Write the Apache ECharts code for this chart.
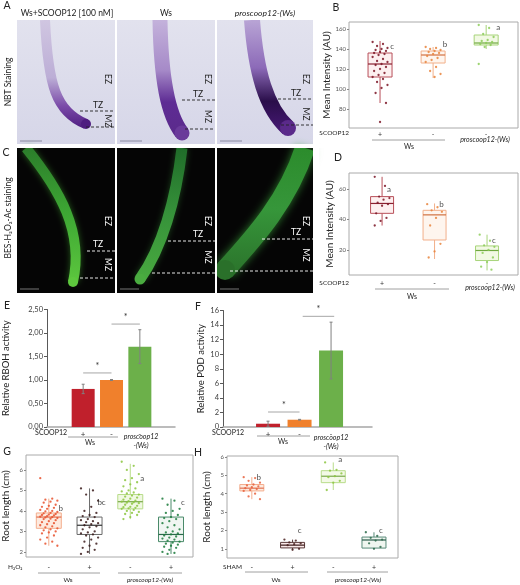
<!DOCTYPE html>
<html><head><meta charset="utf-8">
<script src="https://cdn.jsdelivr.net/npm/echarts@6/dist/echarts.min.js"></script>
<style>html,body{margin:0;padding:0;background:#fff}#c{width:520px;height:585px}</style>
</head><body><div id="c"></div>
<script>
// ---------------- DATA ----------------
// Panel B: NBT staining mean intensity
const signsB = ['+', '-', '-'];
const lettersB = ['c', 'b', 'a'];
const boxStatsB = [[86, 112, 125, 136, 148], [111, 126, 134, 138, 142], [140, 144, 146, 154, 164]];
const pointsB1 = [147,145,143,141,140,139,138,137,136,135,134,132,130,128,127,125,124,122,120,118,116,114,112,110,107,104,101,96,86,67];
const pointsB2 = [142,141,140,139,138,137,136,135,133,131,129,127,122,118,115,112];
const pointsB3 = [164,161,155,152,149,148,147,146,145,144,142,125];
const ticksB = [80, 100, 120, 140, 160];

// Panel D: BES-H2O2-Ac mean intensity
const signsD = ['+', '-', '-'];
const lettersD = ['a', 'b', 'c'];
const boxStatsD = [[36, 44, 50.5, 55, 68], [14, 26.5, 43, 46, 50.5], [6.5, 13, 19.6, 22.6, 30]];
const pointsD1 = [68,62,55,54,53,51,50,49,44,41,39,36];
const pointsD2 = [50,48,46,45,41,36,24,19,15];
const pointsD3 = [30,26,23,22,20,18,15,12,9,7];
const ticksD = [20, 40, 60];

// Panel E: relative RBOH activity
const signsE = ['+', '-', '-'];
const meansE = [0.81, 1.00, 1.71];
const errE = [0.10, 0.01, 0.36];

// Panel F: relative POD activity
const signsF = ['+', '-', '-'];
const meansF = [0.45, 1.00, 10.5];
const errF = [0.35, 0.05, 3.9];

// Panel G: root length with H2O2
const signsG = ['-', '+', '-', '+'];
const lettersG = ['b', 'bc', 'a', 'c'];
const boxStatsG = [[2.3, 3.15, 3.7, 3.9, 4.6], [1.9, 2.85, 3.3, 3.7, 5.1], [3.6, 4.1, 4.45, 4.8, 6.3], [1.9, 2.5, 2.85, 3.7, 4.6]];
const pointsG1 = [5.6,4.6,4.55,4.5,4.45,4.4,4.3,4.25,4.2,4.15,4.1,4.05,4.0,3.98,3.95,3.9,3.88,3.85,3.82,3.8,3.78,3.75,3.72,3.7,3.68,3.65,3.62,3.6,3.55,3.5,3.45,3.4,3.35,3.3,3.25,3.2,3.15,3.1,3.05,3.0,2.95,2.9,2.8,2.7,2.6,2.5,2.4,2.3];
const pointsG2 = [5.1,5.0,4.8,4.5,4.2,4.0,3.9,3.8,3.75,3.7,3.6,3.55,3.5,3.45,3.4,3.35,3.3,3.25,3.2,3.1,3.0,2.95,2.9,2.85,2.8,2.7,2.6,2.5,2.4,2.3,2.2,2.1,2.0,1.9];
const pointsG3 = [6.4,6.2,6.0,5.8,5.6,5.5,5.4,5.3,5.2,5.1,5.0,4.95,4.9,4.85,4.8,4.75,4.7,4.65,4.6,4.55,4.5,4.48,4.45,4.42,4.4,4.38,4.35,4.3,4.25,4.2,4.18,4.15,4.12,4.1,4.05,4.0,3.95,3.9,3.85,3.8,3.7,3.6];
const pointsG4 = [4.6,4.5,4.3,4.1,4.0,3.9,3.8,3.7,3.65,3.6,3.5,3.4,3.3,3.2,3.1,3.0,2.95,2.9,2.85,2.8,2.75,2.7,2.65,2.6,2.55,2.5,2.45,2.4,2.35,2.3,2.25,2.2,2.1,2.0,1.95,1.9];
const ticksG = [2, 3, 4, 5, 6];

// Panel H: root length with SHAM
const signsH = ['-', '+', '-', '+'];
const lettersH = ['b', 'c', 'a', 'c'];
const boxStatsH = [[3.7, 4.15, 4.3, 4.5, 4.9], [0.95, 1.05, 1.2, 1.35, 1.5], [4.2, 4.6, 4.95, 5.25, 5.7], [1.0, 1.04, 1.48, 1.64, 1.9]];
const pointsH1 = [4.9,4.85,4.7,4.6,4.5,4.45,4.4,4.35,4.3,4.25,4.2,4.15,4.0,3.85,3.7];
const pointsH2 = [1.5,1.45,1.35,1.3,1.25,1.2,1.0,0.95];
const pointsH3 = [5.7,5.3,5.25,5.1,4.95,4.9,4.7,4.6,4.2];
const pointsH4 = [1.9,1.7,1.6,1.5,1.45,1.3,1.1,1.0];
const ticksH = [1, 2, 3, 4, 5, 6];

// ---------------- STYLE / BUILD ----------------
const FONT = 'Lato, "Open Sans", sans-serif';
const chart = echarts.init(document.getElementById('c'), null, {renderer: 'canvas'});

const styB = [
  {stroke: '#b8505a', fill: '#fdf0f0', median: '#8a2030', dot: '#7a1424'},
  {stroke: '#f2b08a', fill: '#fef5ee', median: '#d07040', dot: '#e8843c'},
  {stroke: '#a8d47a', fill: '#f2f9e4', median: '#70a840', dot: '#8ccc58'}
];
const styG = [
  {stroke: '#f4ae8e', fill: '#fdeadf', median: '#e07050', dot: '#e8502c'},
  {stroke: '#6a6a6a', fill: '#ffffff', median: '#333333', dot: '#3a1a1a'},
  {stroke: '#b8dc8a', fill: '#f0f8e2', median: '#7aa84a', dot: '#8cc63f'},
  {stroke: '#4a8a6a', fill: '#f0f6f2', median: '#2a6a4a', dot: '#1a7a3a'}
];
const styH = [
  {stroke: '#f4ae8e', fill: '#fdeadf', median: '#e07050', dot: '#e8603c'},
  {stroke: '#5a3a3a', fill: '#fbe8e8', median: '#3a1a1a', dot: '#4a2020'},
  {stroke: '#b8dc8a', fill: '#f3f9e6', median: '#7aa84a', dot: '#8cc63f'},
  {stroke: '#5a8a7a', fill: '#f0f6f0', median: '#2a5a4a', dot: '#2a6a4a'}
];

function boxRender(sty, boxPx) {
  return function (params, api) {
    const i = api.value(0);
    const s = sty[params.dataIndex];
    const pMin = api.coord([i, api.value(1)]);
    const pQ1 = api.coord([i, api.value(2)]);
    const pMed = api.coord([i, api.value(3)]);
    const pQ3 = api.coord([i, api.value(4)]);
    const pMax = api.coord([i, api.value(5)]);
    const x = pMin[0], h = boxPx / 2;
    return {type: 'group', children: [
      {type: 'line', shape: {x1: x, y1: pMax[1], x2: x, y2: pQ3[1]}, style: {stroke: s.stroke, lineWidth: 1}},
      {type: 'line', shape: {x1: x, y1: pQ1[1], x2: x, y2: pMin[1]}, style: {stroke: s.stroke, lineWidth: 1}},
      {type: 'rect', shape: {x: x - h, y: pQ3[1], width: boxPx, height: pQ1[1] - pQ3[1]}, style: {fill: s.fill, stroke: s.stroke, lineWidth: 1}},
      {type: 'line', shape: {x1: x - h, y1: pMed[1], x2: x + h, y2: pMed[1]}, style: {stroke: s.median, lineWidth: 1.2}}
    ]};
  };
}
function boxSeries(gi, stats, sty, boxPx) {
  return {type: 'custom', xAxisIndex: gi, yAxisIndex: gi, z: 2,
    renderItem: boxRender(sty, boxPx),
    encode: {x: 0, y: [1, 2, 3, 4, 5]},
    data: stats.map((s, i) => [i].concat(s))};
}
function jitter(j, spread) { return (((j * 7) % 11) / 10 - 0.5) * spread; }
function dotSeries(gi, idx, pts, color, spread, size) {
  return {type: 'scatter', xAxisIndex: gi, yAxisIndex: gi, z: 5, symbolSize: size, silent: true,
    itemStyle: {color: color, opacity: 0.85},
    data: pts.map((v, j) => [idx + jitter(j, spread), v])};
}
function letterSeries(gi, letters, anchors, dx) {
  return {type: 'scatter', xAxisIndex: gi, yAxisIndex: gi, z: 6, symbolSize: 0, silent: true,
    label: {show: true, position: 'inside', offset: [dx, 0], formatter: p => p.value[2], fontSize: 8, color: '#222', fontFamily: FONT},
    data: letters.map((l, i) => [i, anchors[i], l])};
}
function boxXAxis(gi, min, max, signs, margin) {
  return {gridIndex: gi, type: 'value', min: min, max: max, splitLine: {show: false},
    axisLine: {show: false, onZero: false}, axisTick: {show: false},
    axisLabel: {customValues: signs.map((_, i) => i), formatter: v => signs[Math.round(v)], fontSize: 7, color: '#333', margin: margin, fontFamily: FONT}};
}
function boxYAxis(gi, min, max, ticks, name, nameGap, nameSize) {
  return {gridIndex: gi, type: 'value', min: min, max: max, name: name, nameLocation: 'middle', nameGap: nameGap,
    nameTextStyle: {fontSize: nameSize, color: '#222', fontFamily: FONT},
    splitLine: {show: false}, axisLine: {show: false, onZero: false},
    axisTick: {show: true, length: 2, customValues: ticks, lineStyle: {color: '#888'}},
    axisLabel: {customValues: ticks, fontSize: 6, color: '#555', margin: 3, fontFamily: FONT}};
}
function barXAxis(gi, min, max, signs) {
  return {gridIndex: gi, type: 'value', min: min, max: max, splitLine: {show: false},
    axisLine: {show: true, onZero: false, lineStyle: {color: '#a6a6a6', width: 1.5}}, axisTick: {show: false},
    axisLabel: {customValues: signs.map((_, i) => i), formatter: v => signs[Math.round(v)], fontSize: 8, color: '#333', margin: 3, fontFamily: FONT}};
}
function barYAxis(gi, max, interval, name, nameGap, fmt) {
  return {gridIndex: gi, type: 'value', min: 0, max: max, interval: interval, name: name, nameLocation: 'middle', nameGap: nameGap,
    nameTextStyle: {fontSize: 9.5, color: '#222', fontFamily: FONT},
    splitLine: {show: false}, axisLine: {show: true, onZero: false, lineStyle: {color: '#595959'}},
    axisTick: {show: true, length: 3, lineStyle: {color: '#595959'}},
    axisLabel: {fontSize: 7.5, color: '#404040', margin: 4, formatter: fmt, fontFamily: FONT}};
}
const barColors = ['#c0202c', '#f0802c', '#6cb04a'];
function barSeries(gi, means, width) {
  return {type: 'bar', xAxisIndex: gi, yAxisIndex: gi, barWidth: width, z: 2,
    data: means.map((m, i) => ({value: [i, m], itemStyle: {color: barColors[i]}}))};
}
function errSeries(gi, means, errs) {
  return {type: 'custom', xAxisIndex: gi, yAxisIndex: gi, z: 4,
    renderItem: function (params, api) {
      const x = api.value(0), m = api.value(1), e = api.value(2);
      const t = api.coord([x, m + e]), b = api.coord([x, m - e]);
      const st = {stroke: '#808080', lineWidth: 1};
      return {type: 'group', children: [
        {type: 'line', shape: {x1: t[0], y1: t[1], x2: b[0], y2: b[1]}, style: st},
        {type: 'line', shape: {x1: t[0] - 1.5, y1: t[1], x2: t[0] + 1.5, y2: t[1]}, style: st},
        {type: 'line', shape: {x1: b[0] - 1.5, y1: b[1], x2: b[0] + 1.5, y2: b[1]}, style: st}
      ]};
    },
    data: means.map((m, i) => [i, m, errs[i]])};
}
function sigSeries(gi, pairs) {
  return {type: 'custom', xAxisIndex: gi, yAxisIndex: gi, z: 4, clip: false,
    renderItem: function (params, api) {
      const a = api.coord([api.value(0), api.value(2)]), b = api.coord([api.value(1), api.value(2)]);
      return {type: 'group', children: [
        {type: 'line', shape: {x1: a[0], y1: a[1], x2: b[0], y2: b[1]}, style: {stroke: '#a6a6a6', lineWidth: 1}},
        {type: 'text', x: (a[0] + b[0]) / 2, y: a[1] - 7, style: {text: '*', fontSize: 9, fill: '#333', textAlign: 'center', textVerticalAlign: 'middle', fontFamily: FONT}}
      ]};
    },
    data: pairs};
}

const gridStyle = {show: true, borderColor: '#aaaaaa', borderWidth: 1, backgroundColor: 'transparent'};
const grids = [
  Object.assign({left: 349, top: 22, width: 169, height: 106}, gridStyle),   // B
  Object.assign({left: 349, top: 173, width: 169, height: 102}, gridStyle),  // D
  {left: 44, top: 309.5, width: 131, height: 117.5},                          // E
  {left: 223, top: 310.5, width: 149, height: 116.5},                         // F
  Object.assign({left: 25, top: 455, width: 168, height: 102}, gridStyle),   // G
  Object.assign({left: 227, top: 456, width: 171, height: 102}, gridStyle)   // H
];

// ---------------- GRAPHICS (micrographs & annotations) ----------------
const G = [];
function txt(x, y, t, size, opt) {
  opt = opt || {};
  G.push({type: 'text', x: x, y: y, rotation: opt.rot || 0, z: 20,
    style: {text: t, font: (opt.italic ? 'italic ' : '') + (opt.bold ? 'bold ' : '') + size + 'px ' + FONT,
      fill: opt.color || '#222', textAlign: opt.align || 'center', textVerticalAlign: 'middle'}});
}
function hline(x1, x2, y, color, dash, w) {
  G.push({type: 'line', z: 20, shape: {x1: x1, y1: y, x2: x2, y2: y},
    style: {stroke: color || '#888', lineWidth: w || 0.8, lineDash: dash || null}});
}
function mask(x, y, w, h) {
  G.push({type: 'rect', z: 14, shape: {x: x, y: y, width: w, height: h}, style: {fill: '#ffffff'}});
}
const LG = (stops) => new echarts.graphic.LinearGradient(0, 0, 0, 1, stops.map((c, i) => ({offset: c[0], color: c[1]})));
function root(p, w, stops, tip, glow, blur) {
  G.push({type: 'bezierCurve', z: 12, shape: {x1: p[0], y1: p[1], cpx1: p[2], cpy1: p[3], cpx2: p[4], cpy2: p[5], x2: p[6], y2: p[7]},
    style: {stroke: LG(stops), lineWidth: w, fill: null, lineCap: 'butt', shadowBlur: glow ? (blur || 8) : 0, shadowColor: glow || 'transparent'}});
  G.push({type: 'circle', z: 12, shape: {cx: p[6], cy: p[7], r: w / 2}, style: {fill: tip}});
}
// Panel A / C image backgrounds
const imgX = [17, 117, 217], imgW = [98, 98, 96];
for (let k = 0; k < 3; k++) {
  G.push({type: 'rect', z: 10, shape: {x: imgX[k], y: 20, width: imgW[k], height: 124},
    style: {fill: LG([[0, '#e2e2ee'], [1, '#d6d6e8']])}});
  G.push({type: 'rect', z: 10, shape: {x: imgX[k], y: 148, width: imgW[k], height: 145}, style: {fill: '#050505'}});
}
root([45, 20, 48, 85, 56, 112, 86, 124], 10, [[0, '#d2c8e2'], [0.55, '#bcaed6'], [0.8, '#7a4aa8'], [1, '#4e1c80']], '#4e1c80');
root([160, 20, 161, 80, 168, 115, 182, 133], 15, [[0, '#c8b8de'], [0.45, '#a68ac8'], [0.7, '#5e2c94'], [1, '#5a2a8a']], '#6a3a9a');
root([252, 20, 256, 72, 266, 108, 288, 128], 16, [[0, '#c0aeda'], [0.45, '#8c6ab8'], [0.72, '#2a0e4a'], [1, '#4a1a7a']], '#5a2a8a');
root([26, 148, 60, 190, 84, 232, 73, 282], 10, [[0, '#2a7a2a'], [0.5, '#3ea834'], [1, '#5ec83e']], '#5ec83e', 'rgba(70,180,50,0.5)', 6);
root([182, 148, 176, 200, 162, 248, 140, 279], 11, [[0, '#1e6a28'], [0.5, '#36923a'], [1, '#4aac40']], '#4aac40', 'rgba(60,160,60,0.4)', 6);
root([305, 148, 288, 200, 256, 236, 225, 270], 20, [[0, '#2a8a2a'], [0.5, '#36963a'], [1, '#2a702a']], '#2a702a', 'rgba(60,170,60,0.7)', 8);
// white masks keep micrograph content inside its frames
mask(0, 0, 326, 20); mask(0, 144, 326, 4); mask(0, 293, 326, 10);
mask(115, 20, 2, 273); mask(215, 20, 2, 273); mask(313, 20, 6, 285); mask(0, 20, 17, 273);
// zone markers
const zA = [[80, 111, 86, 127], [182, 100, 185, 129], [278, 99, 281, 125]];
const zC = [[87, 251, 80, 278], [168, 241, 152, 273], [262, 239, 230, 271]];
for (let k = 0; k < 3; k++) {
  const r = imgX[k] + imgW[k];
  hline(zA[k][0], r, zA[k][1], '#222', [3, 2], 0.9);
  hline(zA[k][2], r, zA[k][3], '#222', [3, 2], 0.9);
  txt(r - 7, 79, 'EZ', 8.5, {rot: -Math.PI / 2});
  txt(r - 17, zA[k][1] - 6, 'TZ', 8.5);
  txt(r - 7, (zA[k][1] + zA[k][3]) / 2 + 2, 'MZ', 8.5, {rot: -Math.PI / 2});
  hline(zC[k][0], r, zC[k][1], '#ffffff', [3, 2], 0.9);
  hline(zC[k][2], r, zC[k][3], '#ffffff', [3, 2], 0.9);
  txt(r - 7, 221, 'EZ', 8.5, {rot: -Math.PI / 2, color: '#fff'});
  txt(r - 17, zC[k][1] - 7, 'TZ', 8.5, {color: '#fff'});
  txt(r - 7, (zC[k][1] + zC[k][3]) / 2, 'MZ', 8.5, {rot: -Math.PI / 2, color: '#fff'});
  hline(imgX[k] + 3, imgX[k] + 25, 141, '#8a8aa0', null, 1);
  hline(imgX[k] + 3, imgX[k] + 22, 289, '#777', null, 1);
}
txt(67, 13, 'Ws+SCOOP12 [100 nM]', 8.5);
txt(166, 13, 'Ws', 8.5);
txt(265, 13, 'proscoop12-(Ws)', 8.5, {italic: true});
txt(8, 82, 'NBT Staining', 8.5, {rot: Math.PI / 2});
txt(8, 218, 'BES-H\u2082O\u2082-Ac staining', 8.5, {rot: Math.PI / 2});
// panel letters
[['A', 7, 6], ['B', 336, 8], ['C', 6, 153], ['D', 338, 158], ['E', 7, 306], ['F', 198, 307], ['G', 7, 452], ['H', 198, 453]]
  .forEach(a => txt(a[1], a[2], a[0], 10.5));
// treatment rows & group bars
txt(349, 133, 'SCOOP12', 6.5, {align: 'right'}); hline(372, 445, 140); txt(409, 147, 'Ws', 7); txt(485, 140, 'proscoop12-(Ws)', 7, {italic: true});
txt(349, 283, 'SCOOP12', 6.5, {align: 'right'}); hline(375, 449, 289); txt(412, 297, 'Ws', 7); txt(490, 288, 'proscoop12-(Ws)', 7, {italic: true});
txt(67, 433, 'SCOOP12', 7, {align: 'right'}); hline(68, 118, 437); txt(90, 443, 'Ws', 7); txt(141, 437, 'proscoop12', 7, {italic: true}); txt(141, 446, '-(Ws)', 7, {italic: true});
txt(244, 433, 'SCOOP12', 7, {align: 'right'}); hline(257, 310, 436); txt(283, 442, 'Ws', 7); txt(331, 438, 'proscoop12', 7, {italic: true}); txt(331, 447, '-(Ws)', 7, {italic: true});
txt(8, 567, 'H\u2082O\u2082', 6.5, {align: 'left'}); hline(38, 100, 573); txt(68, 580, 'Ws', 6.5); hline(118, 182, 573); txt(150, 580, 'proscoop12-(Ws)', 6.5, {italic: true});
txt(223, 567, 'SHAM', 6.5, {align: 'left'}); hline(245, 308, 572); txt(276, 580, 'Ws', 6.5); hline(327, 388, 572); txt(358, 580, 'proscoop12-(Ws)', 6.5, {italic: true});

const comma = v => v.toFixed(2).replace('.', ',');

const option = {
  animation: false,
  textStyle: {fontFamily: FONT},
  grid: grids,
  xAxis: [
    boxXAxis(0, -0.585, 2.6, signsB, 3),
    boxXAxis(1, -0.63, 2.59, signsD, 5),
    barXAxis(2, -1.276, 3.24, signsE),
    barXAxis(3, -1.43, 3.3, signsF),
    boxXAxis(4, -0.56, 3.54, signsG, 7),
    boxXAxis(5, -0.61, 3.59, signsH, 6)
  ],
  yAxis: [
    boxYAxis(0, 61, 167, ticksB, 'Mean Intensity (AU)', 14, 10),
    boxYAxis(1, 3.5, 70.5, ticksD, 'Mean Intensity (AU)', 14, 10),
    barYAxis(2, 2.5, 0.5, 'Relative RBOH activity', 36, comma),
    barYAxis(3, 16, 2, 'Relative POD activity', 15, v => String(v)),
    boxYAxis(4, 1.75, 6.73, ticksG, 'Root length (cm)', 15, 10),
    boxYAxis(5, 0.5, 6.05, ticksH, 'Root length (cm)', 15, 10)
  ],
  series: [
    boxSeries(0, boxStatsB, styB, 24),
    dotSeries(0, 0, pointsB1, styB[0].dot, 0.28, 2.3),
    dotSeries(0, 1, pointsB2, styB[1].dot, 0.28, 2.3),
    dotSeries(0, 2, pointsB3, styB[2].dot, 0.28, 2.3),
    letterSeries(0, lettersB, [143, 145, 162], 12),
    boxSeries(1, boxStatsD, styB, 23),
    dotSeries(1, 0, pointsD1, styB[0].dot, 0.28, 2.3),
    dotSeries(1, 1, pointsD2, styB[1].dot, 0.28, 2.3),
    dotSeries(1, 2, pointsD3, styB[2].dot, 0.28, 2.3),
    letterSeries(1, lettersD, [60, 50, 26], 7),
    barSeries(2, meansE, 23),
    errSeries(2, meansE, errE),
    sigSeries(2, [[0, 1, 1.15], [1, 2, 2.19]]),
    barSeries(3, meansF, 24),
    errSeries(3, meansF, errF),
    sigSeries(3, [[0, 1, 2.06], [1.1, 2.1, 15.2]]),
    boxSeries(4, boxStatsG, styG, 25),
    dotSeries(4, 0, pointsG1, styG[0].dot, 0.42, 2.3),
    dotSeries(4, 1, pointsG2, styG[1].dot, 0.42, 2.3),
    dotSeries(4, 2, pointsG3, styG[2].dot, 0.42, 2.3),
    dotSeries(4, 3, pointsG4, styG[3].dot, 0.42, 2.3),
    letterSeries(4, lettersG, [4.1, 4.4, 5.6, 4.4], 12),
    boxSeries(5, boxStatsH, styH, 24),
    dotSeries(5, 0, pointsH1, styH[0].dot, 0.4, 2.3),
    dotSeries(5, 1, pointsH2, styH[1].dot, 0.4, 2.3),
    dotSeries(5, 2, pointsH3, styH[2].dot, 0.4, 2.3),
    dotSeries(5, 3, pointsH4, styH[3].dot, 0.4, 2.3),
    letterSeries(5, lettersH, [4.9, 2.0, 5.85, 2.0], 7)
  ],
  graphic: {elements: G}
};
chart.setOption(option);
</script>
</body></html>
